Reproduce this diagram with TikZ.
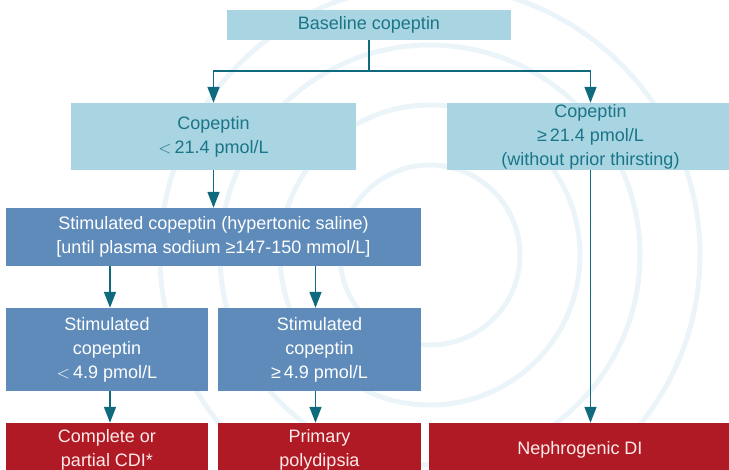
\documentclass[tikz,border=0pt]{standalone}
\usepackage{fontspec}
\setmainfont{Liberation Sans}
\usepackage{xcolor}
\usetikzlibrary{arrows.meta, positioning, calc}

\definecolor{paleblue}{HTML}{A8D5E1}
\definecolor{tealtext}{HTML}{1B7588}
\definecolor{steelblue}{HTML}{5E8BBA}
\definecolor{darkred}{HTML}{AF1A24}
\definecolor{arrowteal}{HTML}{0E6A7C}
\definecolor{swirl}{HTML}{EBF5F9}

\tikzset{
    box/.style={rectangle, inner sep=0pt, align=center, font=\fontsize{18}{24}\selectfont},
    palebox/.style={box, fill=paleblue, text=tealtext},
    bluebox/.style={box, fill=steelblue, text=white},
    redbox/.style={box, fill=darkred, text=white!92!red},
    arr/.style={draw=arrowteal, line width=1.6pt, -{Triangle[length=16pt, width=12pt]}},
    link/.style={draw=arrowteal, line width=1.6pt}
}

\begin{document}
\begin{tikzpicture}[x=1pt, y=-1pt]
\path[use as bounding box] (0,0) rectangle (729,470);

% faint water swirl behind the chart
\foreach \r in {90,150,210,270}
    \draw[swirl, line width=5pt] (430,255) circle[radius=\r];

% baseline measurement
\node[palebox, minimum width=284pt, minimum height=30pt] (base) at (369,25) {Baseline copeptin};
\coordinate (fork) at (369,71);

% first split
\node[palebox, minimum width=285pt, minimum height=67pt] (lowcop) at (213.5,136.5) {Copeptin\\$<$\,21.4 pmol/L};
\node[palebox, minimum width=287pt, minimum height=67pt] (highcop) at (590.5,136.5) {Copeptin\\≥\,21.4 pmol/L\\(without prior thirsting)};

% hypertonic saline test
\node[bluebox, minimum width=415pt, minimum height=58pt] (stim) at (213.5,237) {Stimulated copeptin (hypertonic saline)\\{[}until plasma sodium ≥147-150 mmol/L{]}};
\node[bluebox, minimum width=202pt, minimum height=83pt] (stimlow) at (107,349.5) {Stimulated\\copeptin\\$<$\,4.9 pmol/L};
\node[bluebox, minimum width=203pt, minimum height=83pt] (stimhigh) at (319.5,349.5) {Stimulated\\copeptin\\≥\,4.9 pmol/L};

% diagnoses
\node[redbox, minimum width=202pt, minimum height=54pt] (cdi) at (107,450) {Complete or\\partial CDI*};
\node[redbox, minimum width=203pt, minimum height=54pt] (pp) at (319.5,450) {Primary\\polydipsia};
\node[redbox, minimum width=302pt, minimum height=54pt] (ndi) at (580,450) {Nephrogenic DI};

% connectors
\draw[link] (base.south) -- (fork);
\draw[arr] (fork) -| (lowcop.north);
\draw[arr] (fork) -| (highcop.north);
\draw[arr] (lowcop.south) -- (lowcop.south |- stim.north);
\draw[arr] ($(stim.south -| stimlow.north)+(3,0)$) -- ($(stimlow.north)+(3,0)$);
\draw[arr] ($(stim.south -| stimhigh.north)+(-4,0)$) -- ($(stimhigh.north)+(-4,0)$);
\draw[arr] ($(stimlow.south)+(3,0)$) -- ($(cdi.north)+(3,0)$);
\draw[arr] ($(stimhigh.south)+(-4,0)$) -- ($(pp.north)+(-4,0)$);
\draw[arr] (highcop.south) -- (highcop.south |- ndi.north);

\end{tikzpicture}
\end{document}
